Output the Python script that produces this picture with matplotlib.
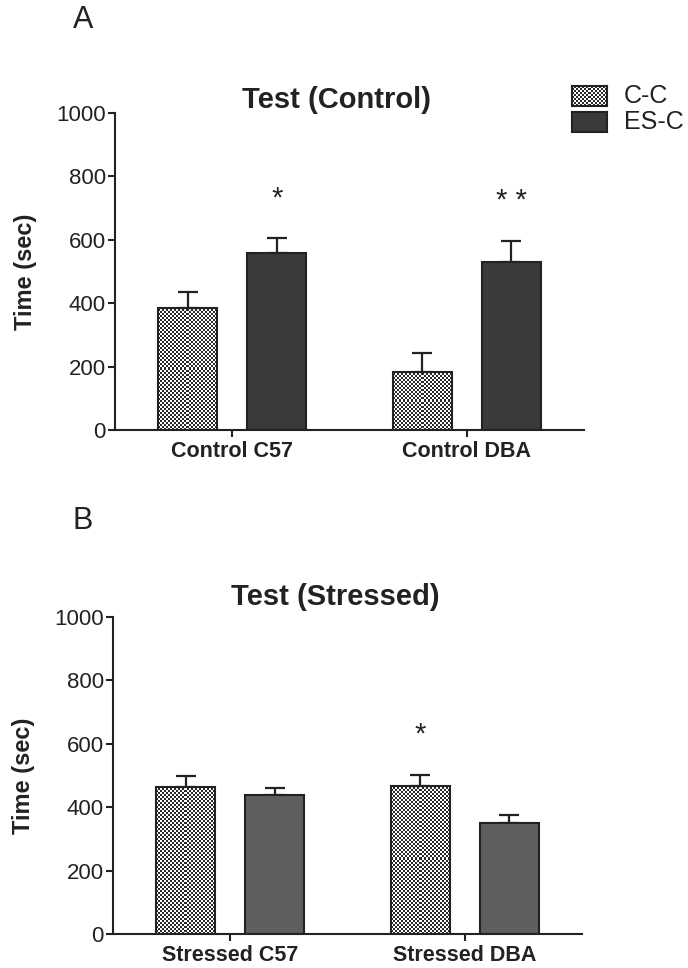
import numpy as np
import matplotlib
matplotlib.use('Agg')
import matplotlib.pyplot as plt
from matplotlib.colors import ListedColormap

plt.rcParams['font.family'] = ['Liberation Sans', 'DejaVu Sans']

# Panel A: Test (Control)
groups_top = ['Control C57', 'Control DBA']
cc_top = [385, 183]
cc_top_err = [50, 60]
esc_top = [558, 530]
esc_top_err = [47, 66]
cc_top_stars = ['', '']
esc_top_stars = ['*', '* *']

# Panel B: Test (Stressed)
groups_bot = ['Stressed C57', 'Stressed DBA']
cc_bot = [465, 468]
cc_bot_err = [35, 35]
esc_bot = [437, 351]
esc_bot_err = [22, 23]
cc_bot_stars = ['', '*']
esc_bot_stars = ['', '']

series_names = ['C-C', 'ES-C']
yticks = [0, 200, 400, 600, 800, 1000]

W, H = 688, 968
EDGE = '#222222'
checker_cmap = ListedColormap(['#ffffff', '#2a2a2a'])


def checker(n_x, n_y):
    yy, xx = np.indices((n_y, n_x))
    return (xx + yy) % 2


def checker_fill(ax, bar, cell=2.0):
    x0, y0 = bar.get_x(), bar.get_y()
    x1, y1 = x0 + bar.get_width(), y0 + bar.get_height()
    (px0, py0), (px1, py1) = ax.transData.transform([(x0, y0), (x1, y1)])
    nx = max(1, int(round((px1 - px0) / cell)))
    ny = max(1, int(round((py1 - py0) / cell)))
    ax.imshow(checker(nx, ny), cmap=checker_cmap, vmin=0, vmax=1,
              extent=(x0, x1, y0, y1), aspect='auto', origin='lower',
              interpolation='nearest', zorder=1.5)


def panel(ax, groups, cc, cc_err, esc, esc_err, esc_color, cc_stars, esc_stars):
    x = np.arange(len(groups))
    width = 0.25
    off = 0.19
    ax.set_xlim(-0.5, 1.5)
    ax.set_ylim(0, 1000)

    bars_cc = ax.bar(x - off, cc, width, facecolor='none', edgecolor=EDGE,
                     linewidth=1.5, zorder=2)
    ax.bar(x + off, esc, width, facecolor=esc_color, edgecolor=EDGE,
           linewidth=1.5, zorder=2)
    for b in bars_cc:
        checker_fill(ax, b)

    for xs, vals, errs in [(x - off, cc, cc_err), (x + off, esc, esc_err)]:
        ax.errorbar(xs, vals, yerr=[np.zeros(len(errs)), errs], fmt='none',
                    ecolor=EDGE, elinewidth=1.6, capsize=7.5, capthick=1.6,
                    zorder=1.8)

    # significance marks above the error bars
    for xs, vals, errs, stars in [(x - off, cc, cc_err, cc_stars),
                                  (x + off, esc, esc_err, esc_stars)]:
        for xi, v, e, s in zip(xs, vals, errs, stars):
            if s:
                ax.text(xi, v + e + 125, s, ha='center', va='center',
                        fontsize=21, color='#222222')

    ax.spines['top'].set_visible(False)
    ax.spines['right'].set_visible(False)
    for sp in ['left', 'bottom']:
        ax.spines[sp].set_linewidth(1.5)
        ax.spines[sp].set_color(EDGE)
    ax.set_yticks(yticks)
    ax.set_yticklabels([str(t) for t in yticks], fontsize=16, color='#222222')
    ax.set_xticks(x)
    ax.set_xticklabels(groups, fontsize=15.5, fontweight='bold', color='#222222')
    ax.tick_params(axis='both', length=5, width=1.5, color=EDGE)
    ax.tick_params(axis='y', pad=1.5)
    ax.tick_params(axis='x', pad=3)
    ax.set_ylabel('Time (sec)', fontsize=17, fontweight='bold', color='#222222')
    ax.yaxis.set_label_coords(-0.166, 0.5)


fig = plt.figure(figsize=(W / 100, H / 100), dpi=100)

ax_left = 115 / W
ax_width = (584 - 115) / W
ax_top = fig.add_axes([ax_left, 1 - 430 / H, ax_width, 317 / H])
ax_bot = fig.add_axes([ax_left - 2 / W, 1 - 934 / H, ax_width, 317 / H])

panel(ax_top, groups_top, cc_top, cc_top_err, esc_top, esc_top_err,
      '#3a3a3a', cc_top_stars, esc_top_stars)
panel(ax_bot, groups_bot, cc_bot, cc_bot_err, esc_bot, esc_bot_err,
      '#5f5f61', cc_bot_stars, esc_bot_stars)

fig.text(336 / W, 1 - 100 / H, 'Test (Control)', ha='center', va='center',
         fontsize=21, fontweight='bold', color='#222222')
fig.text(335 / W, 1 - 597 / H, 'Test (Stressed)', ha='center', va='center',
         fontsize=21, fontweight='bold', color='#222222')
fig.text(83 / W, 1 - 20 / H, 'A', ha='center', va='center', fontsize=22,
         color='#222222')
fig.text(83 / W, 1 - 521 / H, 'B', ha='center', va='center', fontsize=22,
         color='#222222')

# legend drawn by hand so the checker swatch matches the bars
sw_cc = fig.add_axes([572 / W, 1 - 106 / H, 35 / W, 20 / H])
sw_cc.imshow(checker(17, 10), cmap=checker_cmap, vmin=0, vmax=1,
             aspect='auto', interpolation='nearest')
sw_es = fig.add_axes([572 / W, 1 - 132 / H, 35 / W, 20 / H])
sw_es.set_facecolor('#3a3a3a')
for sw in (sw_cc, sw_es):
    sw.set_xticks([])
    sw.set_yticks([])
    for sp in sw.spines.values():
        sp.set_linewidth(1.5)
        sp.set_color(EDGE)
fig.text(624 / W, 1 - 96 / H, series_names[0], ha='left', va='center',
         fontsize=18, color='#222222')
fig.text(624 / W, 1 - 122 / H, series_names[1], ha='left', va='center',
         fontsize=18, color='#222222')

fig.savefig('out.png', dpi=100)
